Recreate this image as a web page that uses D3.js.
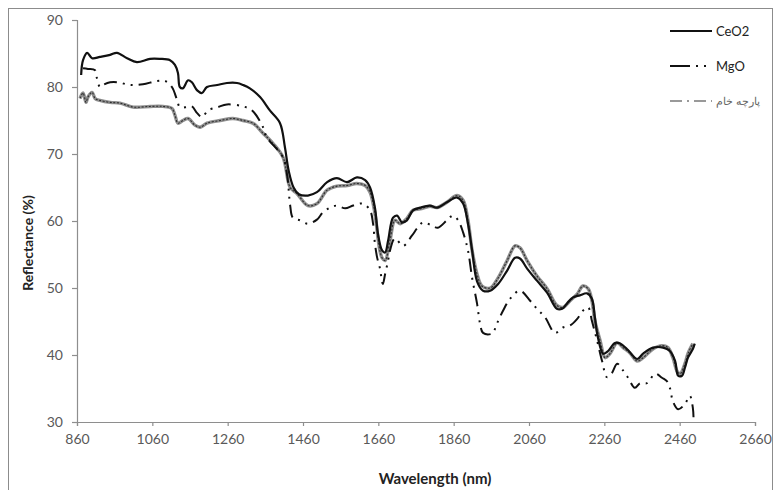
<!DOCTYPE html>
<html>
<head>
<meta charset="utf-8">
<script src="https://cdn.jsdelivr.net/npm/d3@7"></script>
<style>
  html, body { margin: 0; padding: 0; background: #fff; }
  svg { display: block; }
  text { font-family: Lato, "Open Sans", "Liberation Sans", sans-serif; }
</style>
</head>
<body>
<svg id="chart" width="776" height="490"></svg>
<script>
// Reflectance spectra (wavelength in nm, reflectance in %)
const ceo2Wavelength = [871, 876, 887, 900, 921, 948, 966, 993, 1019, 1054, 1080, 1107, 1120, 1128, 1133, 1141, 1155, 1165, 1179, 1192, 1205, 1232, 1258, 1285, 1301, 1319, 1346, 1372, 1399, 1412, 1422, 1435, 1449, 1473, 1497, 1524, 1550, 1577, 1603, 1625, 1638, 1651, 1659, 1670, 1678, 1686, 1699, 1710, 1723, 1736, 1752, 1771, 1797, 1816, 1842, 1869, 1885, 1898, 1909, 1922, 1938, 1957, 1978, 2002, 2023, 2036, 2055, 2081, 2108, 2134, 2148, 2161, 2177, 2195, 2214, 2227, 2235, 2243, 2257, 2270, 2288, 2302, 2320, 2347, 2363, 2389, 2416, 2434, 2448, 2456, 2466, 2474, 2482, 2495, 2500];
const ceo2Values = [81.8, 84.0, 85.1, 84.3, 84.5, 84.8, 85.1, 84.3, 83.7, 84.2, 84.2, 84.0, 83.3, 82.1, 80.0, 79.8, 81.0, 80.7, 79.5, 79.1, 80.0, 80.3, 80.6, 80.6, 80.3, 79.8, 78.5, 76.5, 74.6, 71.0, 67.5, 65.0, 64.0, 63.8, 64.3, 65.8, 66.4, 65.8, 66.5, 66.1, 65.0, 62.0, 58.1, 55.6, 55.3, 57.1, 60.5, 60.8, 59.8, 60.1, 61.6, 62.0, 62.3, 62.0, 62.8, 63.5, 62.6, 59.6, 55.6, 51.0, 49.6, 49.6, 50.6, 52.6, 54.5, 54.4, 52.9, 51.1, 49.3, 46.9, 46.9, 47.7, 48.6, 48.9, 49.2, 48.4, 45.6, 42.6, 40.2, 40.6, 41.8, 41.7, 40.9, 39.4, 40.2, 41.1, 41.1, 40.6, 39.1, 36.9, 36.9, 38.1, 39.6, 40.9, 41.7];

const mgoWavelength = [876, 889, 908, 913, 921, 929, 948, 969, 1001, 1035, 1072, 1094, 1112, 1126, 1133, 1152, 1165, 1179, 1192, 1208, 1234, 1258, 1301, 1325, 1354, 1364, 1407, 1418, 1426, 1433, 1452, 1473, 1497, 1513, 1532, 1550, 1572, 1593, 1619, 1638, 1646, 1651, 1657, 1664, 1672, 1678, 1686, 1691, 1704, 1726, 1749, 1763, 1779, 1803, 1818, 1842, 1858, 1872, 1885, 1898, 1909, 1922, 1930, 1938, 1962, 1975, 1991, 2010, 2036, 2063, 2081, 2103, 2129, 2150, 2169, 2188, 2203, 2217, 2227, 2241, 2254, 2267, 2280, 2294, 2307, 2323, 2341, 2355, 2373, 2395, 2413, 2426, 2434, 2442, 2456, 2474, 2487, 2495, 2497];
const mgoValues = [82.8, 82.7, 82.5, 81.3, 80.0, 80.3, 80.7, 80.7, 80.3, 80.4, 80.9, 80.9, 80.0, 78.0, 77.0, 77.0, 77.1, 76.1, 75.5, 76.5, 77.0, 77.4, 77.1, 76.5, 74.0, 72.5, 69.5, 66.8, 62.3, 60.5, 60.1, 59.6, 60.2, 61.3, 62.0, 62.3, 61.9, 62.3, 62.6, 61.6, 59.6, 56.6, 54.5, 53.0, 50.6, 52.1, 54.1, 55.6, 57.4, 56.3, 57.8, 58.9, 59.8, 59.3, 59.0, 60.1, 60.8, 60.1, 58.3, 55.6, 51.5, 47.7, 44.7, 43.3, 43.2, 44.7, 46.6, 48.4, 49.6, 48.1, 46.9, 45.6, 43.3, 44.1, 44.4, 45.4, 46.6, 47.1, 45.1, 42.1, 39.1, 36.7, 37.3, 38.7, 37.9, 36.6, 35.1, 35.8, 35.8, 37.2, 36.6, 36.1, 35.1, 33.1, 31.9, 32.7, 33.9, 32.1, 30.1];

const rawWavelength = [868, 876, 884, 889, 900, 908, 921, 948, 974, 1009, 1054, 1088, 1112, 1120, 1128, 1141, 1155, 1173, 1187, 1205, 1240, 1274, 1301, 1327, 1354, 1380, 1407, 1426, 1444, 1473, 1497, 1524, 1550, 1577, 1603, 1625, 1638, 1651, 1659, 1664, 1670, 1678, 1691, 1704, 1718, 1736, 1752, 1771, 1797, 1816, 1842, 1869, 1885, 1898, 1909, 1922, 1935, 1957, 1978, 2002, 2023, 2036, 2055, 2081, 2108, 2134, 2150, 2169, 2188, 2203, 2217, 2227, 2235, 2249, 2262, 2275, 2294, 2310, 2328, 2347, 2363, 2389, 2413, 2429, 2442, 2453, 2461, 2474, 2482, 2495];
const rawValues = [78.3, 79.1, 77.7, 78.5, 79.2, 78.3, 78.0, 77.7, 77.6, 77.0, 77.1, 77.1, 76.8, 75.8, 74.6, 75.0, 75.3, 74.3, 74.0, 74.6, 75.0, 75.3, 75.0, 74.6, 73.1, 71.6, 69.5, 65.0, 64.1, 62.3, 62.6, 64.6, 65.2, 65.3, 65.6, 65.3, 64.3, 61.1, 57.5, 55.6, 54.5, 54.1, 57.1, 60.1, 59.6, 60.4, 61.6, 61.8, 62.2, 62.0, 62.8, 63.8, 63.1, 60.1, 55.6, 52.1, 50.3, 50.0, 51.5, 54.1, 56.3, 56.0, 54.1, 51.8, 49.9, 47.4, 47.1, 48.1, 49.1, 50.3, 49.9, 48.1, 45.1, 42.1, 39.6, 40.2, 41.8, 41.1, 40.3, 39.1, 39.6, 40.9, 41.4, 41.1, 39.6, 37.6, 37.2, 38.7, 40.2, 41.7];

const xTicks = [860, 1060, 1260, 1460, 1660, 1860, 2060, 2260, 2460, 2660];
const yTicks = [30, 40, 50, 60, 70, 80, 90];
const seriesNames = ["CeO2", "MgO", "پارچه خام"];

const svg = d3.select("#chart");
const W = 776, H = 490;
const margin = { left: 77, right: 21, top: 20, bottom: 68 };

// Outer chart frame
svg.append("rect")
  .attr("x", 8.5).attr("y", 8.5)
  .attr("width", 764).attr("height", 500)
  .attr("fill", "none").attr("stroke", "#8c8c8c").attr("stroke-width", 1);

const x = d3.scaleLinear().domain([860, 2660]).range([margin.left, W - margin.right]);
const y = d3.scaleLinear().domain([30, 90]).range([H - margin.bottom, margin.top]);

const axisColor = "#8e8e8e";
const tickText = "#595959";

// X axis
const gx = svg.append("g")
  .attr("transform", `translate(0,${y(30)})`)
  .call(d3.axisBottom(x).tickValues(xTicks).tickFormat(d3.format("d")).tickSize(4).tickSizeOuter(4).tickPadding(8));
gx.select(".domain").attr("stroke", axisColor).attr("stroke-width", 1.2);
gx.selectAll(".tick line").attr("stroke", axisColor).attr("stroke-width", 1.2);
gx.selectAll(".tick text").attr("fill", tickText).attr("font-size", 14);

// Y axis
const gy = svg.append("g")
  .attr("transform", `translate(${x(860)},0)`)
  .call(d3.axisLeft(y).tickValues(yTicks).tickSize(5).tickSizeOuter(5).tickPadding(9));
gy.select(".domain").attr("stroke", axisColor).attr("stroke-width", 1.2);
gy.selectAll(".tick line").attr("stroke", axisColor).attr("stroke-width", 1.2);
gy.selectAll(".tick text").attr("fill", tickText).attr("font-size", 14);

// Axis titles
svg.append("text")
  .attr("x", 435).attr("y", 484)
  .attr("text-anchor", "middle")
  .attr("font-size", 15).attr("font-weight", "bold").attr("fill", "#222")
  .text("Wavelength (nm)");
svg.append("text")
  .attr("transform", `translate(33,243) rotate(-90)`)
  .attr("text-anchor", "middle")
  .attr("font-size", 14).attr("font-weight", "bold").attr("fill", "#222")
  .text("Reflectance (%)");

const line = d3.line().x(d => x(d[0])).y(d => y(d[1])).curve(d3.curveCatmullRom.alpha(0.5));
const zip = (a, b) => a.map((v, i) => [v, b[i]]);

const plot = svg.append("g");

// Raw fabric: textured grey trace
const rawData = zip(rawWavelength, rawValues);
plot.append("path").datum(rawData).attr("d", line)
  .attr("fill", "none").attr("stroke", "#8f8f8f").attr("stroke-width", 3.4);
plot.append("path").datum(rawData).attr("d", line)
  .attr("fill", "none").attr("stroke", "#2e2e2e").attr("stroke-width", 1.1)
  .attr("stroke-dasharray", "2 1.6");

// MgO: long dash – dot – dot
plot.append("path").datum(zip(mgoWavelength, mgoValues)).attr("d", line)
  .attr("fill", "none").attr("stroke", "#111").attr("stroke-width", 2)
  .attr("stroke-dasharray", "13 6 2 6 2 6");

// CeO2: solid
plot.append("path").datum(zip(ceo2Wavelength, ceo2Values)).attr("d", line)
  .attr("fill", "none").attr("stroke", "#111").attr("stroke-width", 2.2);

// Legend
const legend = svg.append("g");
const lx0 = 670, lx1 = 712;
const rows = [31, 66, 101];
legend.append("line").attr("x1", lx0).attr("x2", lx1).attr("y1", rows[0]).attr("y2", rows[0])
  .attr("stroke", "#111").attr("stroke-width", 2.2);
legend.append("line").attr("x1", lx0).attr("x2", lx1).attr("y1", rows[1]).attr("y2", rows[1])
  .attr("stroke", "#111").attr("stroke-width", 2.2).attr("stroke-dasharray", "20 6 2 6 2 6");
legend.append("line").attr("x1", lx0).attr("x2", lx1).attr("y1", rows[2]).attr("y2", rows[2])
  .attr("stroke", "#999").attr("stroke-width", 2).attr("stroke-dasharray", "12 5 2 5");
seriesNames.forEach((name, i) => {
  legend.append("text")
    .attr("x", 716).attr("y", rows[i]).attr("dy", "0.35em")
    .attr("font-size", i === 2 ? 11 : 13)
    .attr("fill", i === 2 ? "#666" : "#222")
    .attr("font-family", i === 2 ? "'DejaVu Sans', 'Noto Sans', sans-serif" : null)
    .text(name);
});
</script>
</body>
</html>
